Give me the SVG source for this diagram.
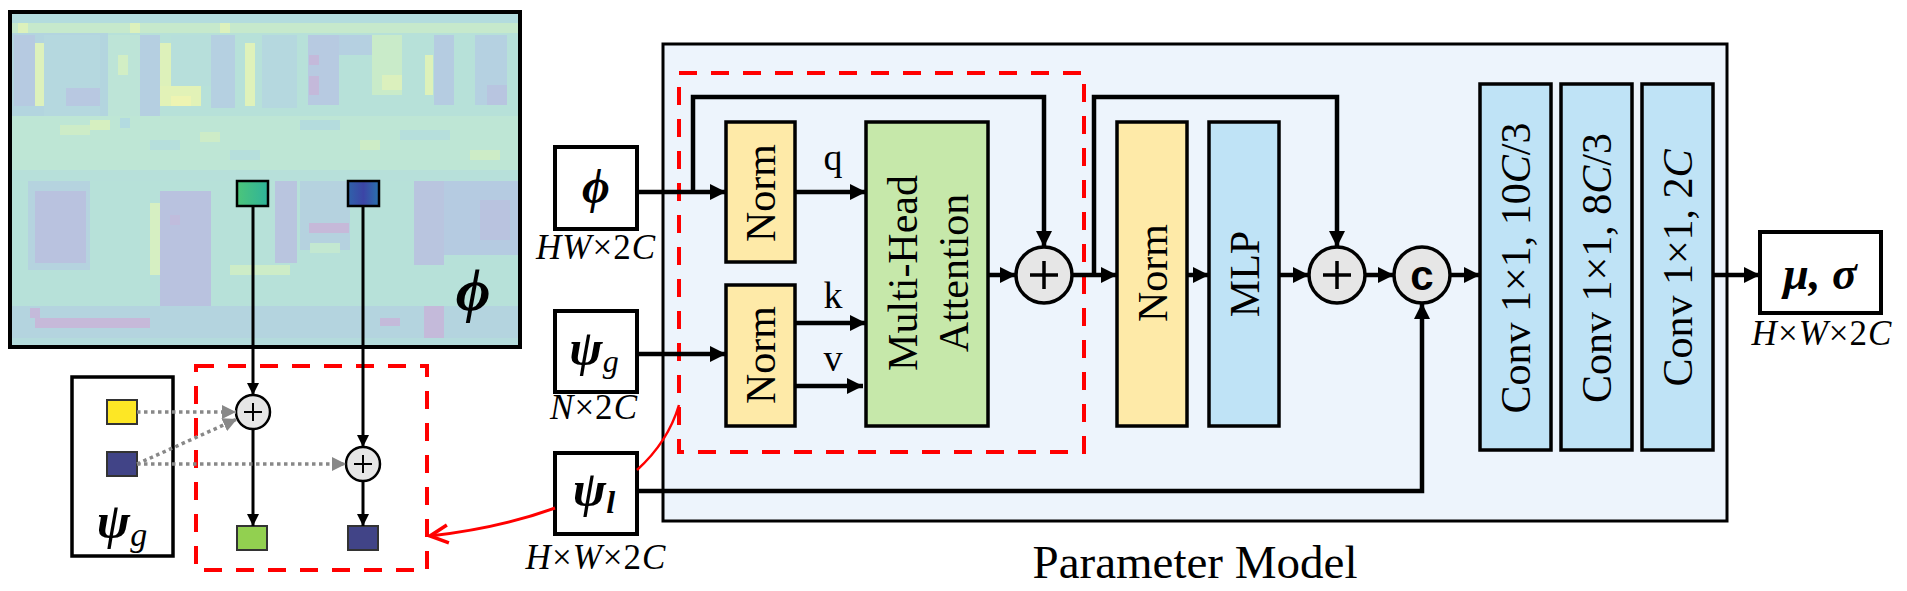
<svg xmlns="http://www.w3.org/2000/svg" width="1907" height="591" viewBox="0 0 1907 591">
<defs>
<style>
.box{fill:#fff;stroke:#000;stroke-width:4}
.norm{fill:#feeaa8;stroke:#000;stroke-width:3.5}
.mha{fill:#c6e8aa;stroke:#000;stroke-width:3.5}
.blue{fill:#bfe3f6;stroke:#000;stroke-width:3.5}
.op{fill:#e6e6e6;stroke:#000;stroke-width:3.5}
.ops{fill:#e6e6e6;stroke:#000;stroke-width:2.5}
.red{fill:none;stroke:#ff0000;stroke-width:4;stroke-dasharray:18 14}
.conn{fill:none;stroke:#000;stroke-width:4.5}
.conns{fill:none;stroke:#000;stroke-width:3}
.dot{fill:none;stroke:#888;stroke-width:3.5;stroke-dasharray:3.5 3.5}
.t{font-family:"Liberation Serif","Times New Roman",serif;fill:#000}
.m{font-family:"Liberation Serif","DejaVu Serif",serif;font-style:italic;font-weight:bold;fill:#000}
.mi{font-family:"Liberation Serif",serif;font-style:italic;fill:#000}
.lab{font-size:35px;letter-spacing:1px}
.pl{stroke:#000;stroke-width:3.5}
.pls{stroke:#000;stroke-width:2}
</style>
<marker id="ah" markerUnits="userSpaceOnUse" markerWidth="16" markerHeight="16" refX="16" refY="8" orient="auto"><path d="M0,0 L16,8 L0,16 z" fill="#000"/></marker>
<marker id="ahs" markerUnits="userSpaceOnUse" markerWidth="12" markerHeight="12" refX="12" refY="6" orient="auto"><path d="M0,0 L12,6 L0,12 z" fill="#000"/></marker>
<marker id="ahg" markerUnits="userSpaceOnUse" markerWidth="14" markerHeight="14" refX="14" refY="7" orient="auto"><path d="M0,0 L14,7 L0,14 z" fill="#888"/></marker>
<marker id="ahr" markerUnits="userSpaceOnUse" markerWidth="22" markerHeight="22" refX="20" refY="11" orient="auto"><path d="M2,2 L20,11 L2,20" fill="none" stroke="#ff0000" stroke-width="3.5"/></marker>
<linearGradient id="gq" x1="0" x2="1"><stop offset="0" stop-color="#4cc57a"/><stop offset="1" stop-color="#2fb39a"/></linearGradient>
<linearGradient id="bq" x1="0" x2="1"><stop offset="0" stop-color="#2f62aa"/><stop offset="0.5" stop-color="#3c45a6"/><stop offset="1" stop-color="#2a72ad"/></linearGradient>
</defs>

<g id="feature-map">
<rect x="10" y="12" width="510" height="335" fill="#b7e1d9"/>
<rect x="12" y="12" width="506" height="11" fill="#b3dcde"/>
<rect x="12" y="23" width="506" height="10" fill="#c6e9cc"/>
<rect x="18" y="23" width="10" height="10" fill="#dcf1bc"/>
<rect x="130" y="23" width="10" height="10" fill="#dcf1bc"/>
<rect x="220" y="23" width="10" height="10" fill="#dcf1bc"/>
<rect x="12" y="33" width="96" height="83" fill="#b3d5df"/>
<rect x="14" y="35" width="21" height="71" fill="#b6cae1"/>
<rect x="35" y="43" width="9" height="63" fill="#ddf1bc"/>
<rect x="44" y="35" width="56" height="81" fill="#b5d8df"/>
<rect x="66" y="88" width="34" height="18" fill="#b8c8e1"/>
<rect x="108" y="35" width="32" height="81" fill="#bde4d7"/>
<rect x="118" y="55" width="10" height="20" fill="#d2eec4"/>
<rect x="140" y="35" width="20" height="81" fill="#b5cfe1"/>
<rect x="160" y="43" width="11" height="63" fill="#ddf1ba"/>
<rect x="171" y="35" width="40" height="51" fill="#b7dfdb"/>
<rect x="160" y="86" width="41" height="20" fill="#e2f2b7"/>
<rect x="171" y="96" width="20" height="10" fill="#eef4b2"/>
<rect x="211" y="35" width="24" height="73" fill="#b5d0e1"/>
<rect x="245" y="43" width="10" height="63" fill="#dff2ba"/>
<rect x="262" y="35" width="35" height="73" fill="#b5d8df"/>
<rect x="308" y="35" width="31" height="70" fill="#b7cae1"/>
<rect x="309" y="55" width="10" height="10" fill="#c4b9da"/>
<rect x="309" y="76" width="10" height="19" fill="#c4b9da"/>
<rect x="339" y="35" width="33" height="20" fill="#b5d0e1"/>
<rect x="372" y="35" width="30" height="60" fill="#c9ebc9"/>
<rect x="382" y="75" width="20" height="15" fill="#dbf0bd"/>
<rect x="425" y="55" width="8" height="40" fill="#ddf1ba"/>
<rect x="434" y="35" width="20" height="70" fill="#b5cce1"/>
<rect x="475" y="35" width="32" height="70" fill="#b5d1e1"/>
<rect x="487" y="85" width="20" height="20" fill="#b8c5e0"/>
<rect x="12" y="116" width="506" height="64" fill="#bee6d5"/>
<rect x="60" y="125" width="30" height="10" fill="#cdecc7"/>
<rect x="90" y="120" width="20" height="10" fill="#d6efc0"/>
<rect x="120" y="118" width="10" height="10" fill="#b3dbe0"/>
<rect x="150" y="140" width="30" height="10" fill="#b6dfdc"/>
<rect x="200" y="132" width="20" height="10" fill="#cdecc7"/>
<rect x="230" y="150" width="30" height="10" fill="#b6dfdc"/>
<rect x="300" y="120" width="40" height="10" fill="#b4dcdd"/>
<rect x="360" y="140" width="20" height="10" fill="#cdecc7"/>
<rect x="400" y="130" width="50" height="10" fill="#b6dfdc"/>
<rect x="470" y="150" width="30" height="10" fill="#cdecc7"/>
<rect x="12" y="170" width="506" height="11" fill="#b7e0da"/>
<rect x="28" y="181" width="62" height="89" fill="#b5d3df"/>
<rect x="35" y="191" width="51" height="72" fill="#b9c2df"/>
<rect x="150" y="203" width="10" height="72" fill="#d6efc2"/>
<rect x="160" y="191" width="51" height="115" fill="#b9c2df"/>
<rect x="170" y="215" width="10" height="10" fill="#c0bcdc"/>
<rect x="275" y="181" width="22" height="82" fill="#b9c5df"/>
<rect x="300" y="181" width="50" height="69" fill="#b5d2df"/>
<rect x="309" y="223" width="40" height="10" fill="#c6b9d9"/>
<rect x="310" y="243" width="30" height="10" fill="#c3e8d1"/>
<rect x="414" y="181" width="30" height="84" fill="#b9c5df"/>
<rect x="444" y="181" width="75" height="74" fill="#b5cbe1"/>
<rect x="480" y="200" width="30" height="40" fill="#b9c3df"/>
<rect x="230" y="265" width="60" height="10" fill="#cdecc7"/>
<rect x="12" y="306" width="506" height="32" fill="#b4d4df"/>
<rect x="35" y="318" width="115" height="10" fill="#c6b9d9"/>
<rect x="30" y="308" width="10" height="10" fill="#c4bada"/>
<rect x="380" y="318" width="20" height="8" fill="#c4bada"/>
<rect x="424" y="306" width="20" height="32" fill="#c4bada"/>
<rect x="12" y="338" width="506" height="8" fill="#b4dbdc"/>
<rect x="10" y="12" width="510" height="335" fill="none" stroke="#000" stroke-width="4"/>
<rect x="237" y="181" width="31" height="25" fill="url(#gq)" stroke="#000" stroke-width="2.5"/>
<rect x="348" y="181" width="31" height="25" fill="url(#bq)" stroke="#000" stroke-width="2.5"/>
<text class="m" x="473" y="310" font-size="60" text-anchor="middle">ϕ</text>
</g>

<g id="psi-g-tokens">
<rect x="72" y="377" width="101" height="179" fill="#fff" stroke="#000" stroke-width="3.5"/>
<rect x="107" y="400" width="30" height="24" fill="#fde725" stroke="#333" stroke-width="2"/>
<rect x="107" y="452" width="30" height="24" fill="#414487" stroke="#333" stroke-width="2"/>
<text x="122" y="538" text-anchor="middle"><tspan class="m" font-size="50">ψ</tspan><tspan class="mi" font-size="34" dy="8">g</tspan></text>
</g>

<g id="sampling-box">
<rect class="red" x="196" y="366" width="231" height="204"/>
<g id="add-a"><circle class="ops" cx="253" cy="412" r="17"/><path class="pls" d="M244,412 H262 M253,403 V421"/></g>
<g id="add-b"><circle class="ops" cx="363" cy="464" r="17"/><path class="pls" d="M354,464 H372 M363,455 V473"/></g>
<rect x="237" y="526" width="30" height="24" fill="#92d050" stroke="#333" stroke-width="2"/>
<rect x="348" y="526" width="30" height="24" fill="#414487" stroke="#333" stroke-width="2"/>
</g>

<g id="phi-input"><rect class="box" x="555" y="147" width="82" height="82"/><text class="m" x="596" y="203" font-size="48" text-anchor="middle">ϕ</text><text class="lab" x="596" y="259" text-anchor="middle"><tspan class="mi">HW</tspan><tspan class="t">×2</tspan><tspan class="mi">C</tspan></text></g>
<g id="psi-g-input"><rect class="box" x="555" y="311" width="82" height="81"/><text x="594" y="365" text-anchor="middle"><tspan class="m" font-size="50">ψ</tspan><tspan class="mi" font-size="32" dy="7">g</tspan></text><text class="lab" x="594" y="419" text-anchor="middle"><tspan class="mi">N</tspan><tspan class="t">×2</tspan><tspan class="mi">C</tspan></text></g>
<g id="psi-l-input"><rect class="box" x="555" y="453" width="82" height="81"/><text x="594" y="506" text-anchor="middle"><tspan class="m" font-size="50">ψ</tspan><tspan class="m" font-size="32" dy="7">l</tspan></text><text class="lab" x="596" y="569" text-anchor="middle"><tspan class="mi">H</tspan><tspan class="t">×</tspan><tspan class="mi">W</tspan><tspan class="t">×2</tspan><tspan class="mi">C</tspan></text></g>

<g id="parameter-model">
<rect x="663" y="44" width="1064" height="477" fill="#edf4fc" stroke="#000" stroke-width="3"/>
<text class="t" x="1195" y="578" font-size="47" text-anchor="middle">Parameter Model</text>
</g>
<rect class="red" x="679" y="73" width="405" height="379"/>

<g id="norm-q"><rect class="norm" x="726" y="122" width="69" height="140"/><text class="t" font-size="42" text-anchor="middle" transform="translate(775,193) rotate(-90)">Norm</text></g>
<g id="norm-kv"><rect class="norm" x="726" y="285" width="69" height="141"/><text class="t" font-size="42" text-anchor="middle" transform="translate(775,355) rotate(-90)">Norm</text></g>
<g id="mha"><rect class="mha" x="866" y="122" width="122" height="304"/><text class="t" font-size="42" text-anchor="middle" transform="translate(917,273) rotate(-90)">Multi-Head</text><text class="t" font-size="42" text-anchor="middle" transform="translate(968,273) rotate(-90)">Attention</text></g>
<g id="add-1"><circle class="op" cx="1044" cy="275" r="28"/><path class="pl" d="M1030,275 H1058 M1044,261 V289"/></g>
<g id="norm-2"><rect class="norm" x="1117" y="122" width="70" height="304"/><text class="t" font-size="42" text-anchor="middle" transform="translate(1167,273) rotate(-90)">Norm</text></g>
<g id="mlp"><rect class="blue" x="1209" y="122" width="70" height="304"/><text class="t" font-size="42" text-anchor="middle" transform="translate(1259,274) rotate(-90)">MLP</text></g>
<g id="add-2"><circle class="op" cx="1337" cy="275" r="28"/><path class="pl" d="M1323,275 H1351 M1337,261 V289"/></g>
<g id="concat"><circle class="op" cx="1422" cy="275" r="28"/><text x="1422" y="290" font-family="Liberation Sans, Arial, sans-serif" font-weight="bold" font-size="42" text-anchor="middle">c</text></g>
<g id="conv-1"><rect class="blue" x="1480" y="84" width="71" height="366"/><text class="t" font-size="42" text-anchor="middle" transform="translate(1530,268) rotate(-90)">Conv 1×1, 10<tspan font-style="italic">C</tspan>/3</text></g>
<g id="conv-2"><rect class="blue" x="1561" y="84" width="71" height="366"/><text class="t" font-size="42" text-anchor="middle" transform="translate(1611,268) rotate(-90)">Conv 1×1, 8<tspan font-style="italic">C</tspan>/3</text></g>
<g id="conv-3"><rect class="blue" x="1642" y="84" width="71" height="366"/><text class="t" font-size="42" text-anchor="middle" transform="translate(1692,268) rotate(-90)">Conv 1×1, 2<tspan font-style="italic">C</tspan></text></g>
<g id="output"><rect class="box" x="1760" y="232" width="121" height="81"/><text class="m" x="1820" y="289" font-size="46" text-anchor="middle">μ, σ</text><text class="lab" x="1822" y="345" text-anchor="middle"><tspan class="mi">H</tspan><tspan class="t">×</tspan><tspan class="mi">W</tspan><tspan class="t">×2</tspan><tspan class="mi">C</tspan></text></g>

<g id="connectors">
<path class="conns" d="M253,206 V395" marker-end="url(#ahs)"/>
<path class="conns" d="M363,206 V447" marker-end="url(#ahs)"/>
<path class="conns" d="M253,429 V526" marker-end="url(#ahs)"/>
<path class="conns" d="M363,481 V526" marker-end="url(#ahs)"/>
<path class="dot" d="M137,412 H236" marker-end="url(#ahg)"/>
<path class="dot" d="M137,464 L237,419" marker-end="url(#ahg)"/>
<path class="dot" d="M137,464 H346" marker-end="url(#ahg)"/>
<path d="M555,508 Q500,528 430,536" fill="none" stroke="#ff0000" stroke-width="3" marker-end="url(#ahr)"/>
<path d="M637,470 Q668,442 679,405" fill="none" stroke="#ff0000" stroke-width="2.5"/>
<path class="conn" d="M637,192 H726" marker-end="url(#ah)"/>
<path class="conn" d="M693,192 V97 H1044 V247" marker-end="url(#ah)"/>
<path class="conn" d="M795,192 H866" marker-end="url(#ah)"/>
<path class="conn" d="M637,354 H726" marker-end="url(#ah)"/>
<path class="conn" d="M795,323 H866" marker-end="url(#ah)"/>
<path class="conn" d="M795,386 H863" marker-end="url(#ah)"/>
<path class="conn" d="M988,275 H1016" marker-end="url(#ah)"/>
<path class="conn" d="M1072,275 H1117" marker-end="url(#ah)"/>
<path class="conn" d="M1094,275 V97 H1337 V247" marker-end="url(#ah)"/>
<path class="conn" d="M1187,275 H1209" marker-end="url(#ah)"/>
<path class="conn" d="M1279,275 H1309" marker-end="url(#ah)"/>
<path class="conn" d="M1365,275 H1394" marker-end="url(#ah)"/>
<path class="conn" d="M1450,275 H1480" marker-end="url(#ah)"/>
<path class="conn" d="M1713,275 H1760" marker-end="url(#ah)"/>
<path class="conn" d="M637,491 H1422 V303" marker-end="url(#ah)"/>
<text class="t" x="833" y="170" font-size="38" text-anchor="middle">q</text>
<text class="t" x="833" y="308" font-size="38" text-anchor="middle">k</text>
<text class="t" x="833" y="371" font-size="38" text-anchor="middle">v</text>
</g>
</svg>
